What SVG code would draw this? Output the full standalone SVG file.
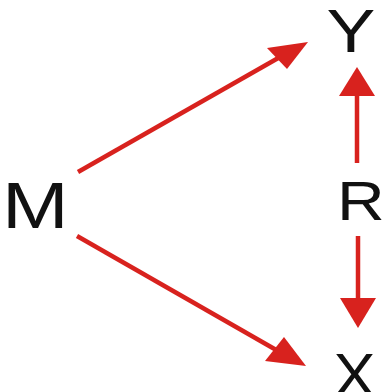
<svg xmlns="http://www.w3.org/2000/svg" width="385" height="392" viewBox="0 0 385 392">
<style>
.lbl{font-family:"Liberation Sans",Arial,sans-serif;fill:#111;}
.edge{stroke:#d8221e;stroke-width:4.5;fill:none;}
.head{fill:#d8221e;stroke:none;}
</style>
<rect width="385" height="392" fill="#fff"/>
<g id="connectors">
<g id="M-Y"><line class="edge" x1="78" y1="172" x2="280" y2="57"/><polygon class="head" points="308,42 267,48 287,69"/></g>
<g id="M-X"><line class="edge" x1="77" y1="236" x2="278" y2="351"/><polygon class="head" points="306,366 284,337 265,361"/></g>
<g id="R-Y"><line class="edge" x1="357" y1="163" x2="357" y2="93"/><polygon class="head" points="357,67 339,96 375,96"/></g>
<g id="R-X"><line class="edge" x1="358" y1="236" x2="358" y2="300"/><polygon class="head" points="358,328 340,298 376,298"/></g>
</g>
<g id="M"><text class="lbl" font-size="64" transform="translate(2,228) scale(1.25,1)">M</text></g>
<g id="Y"><text class="lbl" font-size="61" transform="translate(326.5,52) scale(1.2,1)">Y</text></g>
<g id="R"><text class="lbl" font-size="56" transform="translate(337,219.5) scale(1.18,1)">R</text></g>
<g id="X"><text class="lbl" font-size="61" transform="translate(333.5,396) scale(1.03,1)">X</text></g>
</svg>
